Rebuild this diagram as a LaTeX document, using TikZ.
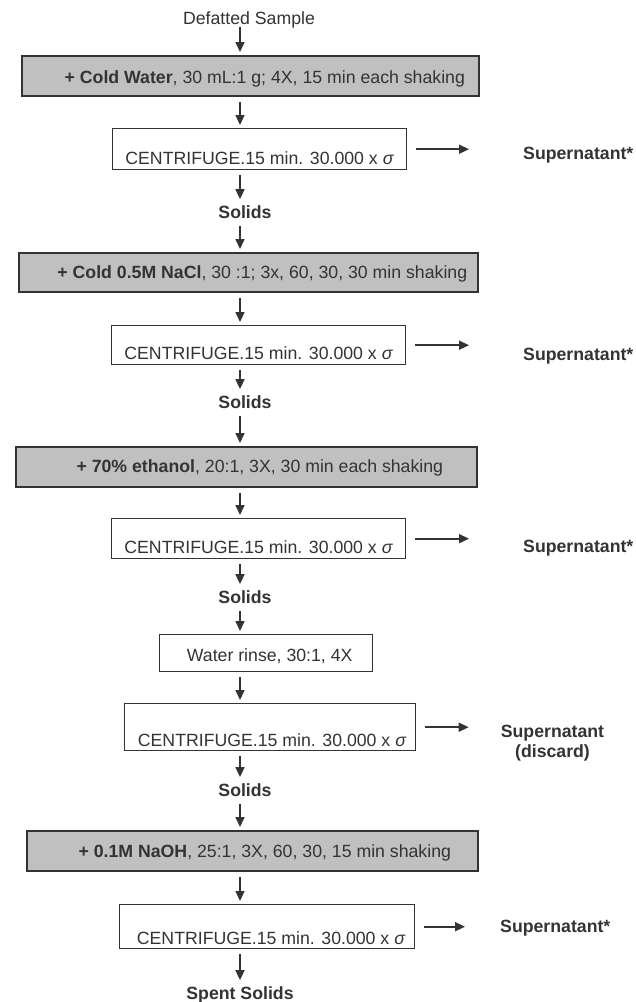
\documentclass[tikz,border=0pt]{standalone}
\usepackage{fontspec}
\setmainfont{Liberation Sans}
\usetikzlibrary{arrows.meta}
\definecolor{ink}{HTML}{333333}
\definecolor{boxgray}{HTML}{C0C0C0}
\begin{document}
\begin{tikzpicture}[x=1pt,y=-1pt,
  font=\fontsize{17.7}{21}\selectfont,
  graybox/.style={draw=ink, line width=1.6pt, fill=boxgray, anchor=north west, inner sep=0pt, text=ink},
  whitebox/.style={draw=ink, line width=1.4pt, fill=white, anchor=north west, inner sep=0pt, text=ink},
  lbl/.style={inner xsep=0pt, inner ysep=3pt, text height=12.7pt, text depth=0pt, text=ink, anchor=base},
  arr/.style={draw=ink, line width=1.6pt, -{Triangle[length=10pt,width=9pt]}, shorten <=5pt, shorten >=3pt},
  side/.style={draw=ink, line width=1.6pt, -{Triangle[length=10pt,width=9pt]}, shorten <=9pt}]
\useasboundingbox (0,0) rectangle (635,1002);
\fill[white] (0,0) rectangle (635,1002);
\coordinate (col) at (240,0);

% labels
\node[lbl] (d0) at (249,24.5) {Defatted Sample};
\node[lbl, font=\fontsize{17.7}{21}\selectfont\bfseries] (s1) at (245,218) {Solids};
\node[lbl, font=\fontsize{17.7}{21}\selectfont\bfseries] (s2) at (245,408) {Solids};
\node[lbl, font=\fontsize{17.7}{21}\selectfont\bfseries] (s3) at (245,603) {Solids};
\node[lbl, font=\fontsize{17.7}{21}\selectfont\bfseries] (s4) at (245,796) {Solids};
\node[lbl, font=\fontsize{17.7}{21}\selectfont\bfseries] (sp) at (240,999) {Spent Solids};

% gray extraction boxes
\node[graybox, minimum width=457pt, text height=28pt, text depth=12pt] (b1) at (21,55)
  {\hspace*{29pt}\textbf{+ Cold Water}, 30 mL:1 g; 4X, 15 min each shaking};
\node[graybox, minimum width=459pt, text height=26pt, text depth=13pt] (b2) at (18,252)
  {\hspace*{28pt}\textbf{+ Cold 0.5M NaCl}, 30 :1; 3x, 60, 30, 30 min shaking};
\node[graybox, minimum width=461pt, text height=26pt, text depth=14pt] (b3) at (15,446)
  {\hspace*{27pt}\textbf{+ 70\% ethanol}, 20:1, 3X, 30 min each shaking};
\node[whitebox, minimum width=213pt, text height=27pt, text depth=10pt] (w) at (159,634)
  {\hspace*{7pt}Water rinse, 30:1, 4X};
\node[graybox, minimum width=451pt, text height=27pt, text depth=13pt] (b5) at (26,830)
  {\hspace*{25pt}\textbf{+ 0.1M NaOH}, 25:1, 3X, 60, 30, 15 min shaking};

% centrifuge boxes
\node[whitebox, minimum width=294pt, text height=36pt, text depth=5pt] (c1) at (112,128)
  {CENTRIFUGE.15 min. 30.000 x \textit{σ}};
\node[whitebox, minimum width=294pt, text height=34pt, text depth=5pt] (c2) at (111,325)
  {CENTRIFUGE.15 min. 30.000 x \textit{σ}};
\node[whitebox, minimum width=294pt, text height=35pt, text depth=5pt] (c3) at (111,518)
  {CENTRIFUGE.15 min. 30.000 x \textit{σ}};
\node[whitebox, minimum width=291pt, text height=43pt, text depth=4pt] (c4) at (124,703)
  {\hspace*{4pt}CENTRIFUGE.15 min. 30.000 x \textit{σ}};
\node[whitebox, minimum width=295pt, text height=40pt, text depth=4pt] (c5) at (119,904)
  {\hspace*{8pt}CENTRIFUGE.15 min. 30.000 x \textit{σ}};

% supernatant labels
\node[lbl, anchor=base west, font=\fontsize{17.7}{21}\selectfont\bfseries] (u1) at (523,159) {Supernatant*};
\node[lbl, anchor=base west, font=\fontsize{17.7}{21}\selectfont\bfseries] (u2) at (523,360) {Supernatant*};
\node[lbl, anchor=base west, font=\fontsize{17.7}{21}\selectfont\bfseries] (u3) at (523,552) {Supernatant*};
\node[text=ink, inner sep=0pt, align=center, font=\fontsize{17.7}{20}\selectfont\bfseries] (u4) at (552.5,743) {Supernatant\\(discard)};
\node[lbl, anchor=base west, font=\fontsize{17.7}{21}\selectfont\bfseries] (u5) at (500,932) {Supernatant*};

% main flow
\draw[arr, shorten <=-1pt] (d0.south -| col) -- (b1.north -| col);
\draw[arr] (b1.south -| col) -- (c1.north -| col);
\draw[arr] (c1.south -| col) -- (s1.north -| col);
\draw[arr] (s1.south -| col) -- (b2.north -| col);
\draw[arr] (b2.south -| col) -- (c2.north -| col);
\draw[arr] (c2.south -| col) -- (s2.north -| col);
\draw[arr] (s2.south -| col) -- (b3.north -| col);
\draw[arr] (b3.south -| col) -- (c3.north -| col);
\draw[arr] (c3.south -| col) -- (s3.north -| col);
\draw[arr] (s3.south -| col) -- (w.north -| col);
\draw[arr] (w.south -| col) -- (c4.north -| col);
\draw[arr] (c4.south -| col) -- (s4.north -| col);
\draw[arr] (s4.south -| col) -- (b5.north -| col);
\draw[arr] (b5.south -| col) -- (c5.north -| col);
\draw[arr] (c5.south -| col) -- (sp.north -| col);

% side arrows
\draw[side, shorten >=54pt] (c1.east) -- (c1.east -| u1.west);
\draw[side, shorten >=54pt] (c2.east) -- (c2.east -| u2.west);
\draw[side, shorten >=54pt] (c3.east) -- (c3.east -| u3.west);
\draw[side, shorten >=32pt] (c4.east) -- (c4.east -| u4.west);
\draw[side, shorten >=35pt] (c5.east) -- (c5.east -| u5.west);
\end{tikzpicture}
\end{document}
